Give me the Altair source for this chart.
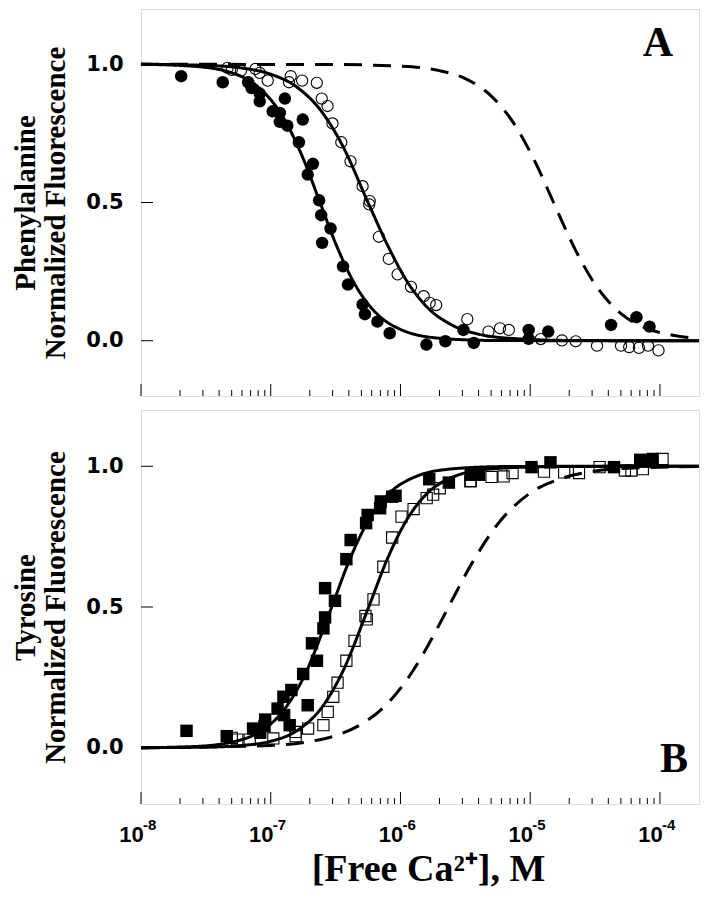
import altair as alt
import pandas as pd

# ---------------- data (log10 of free [Ca2+] in M, normalized fluorescence) ----------------
# Panel A (Phenylalanine)
a_fill_logx = [-7.69, -7.37, -7.174, -7.148, -7.085, -7.085, -6.985, -6.93, -6.93, -6.872,
               -6.891, -6.753, -6.783, -6.675, -6.715, -6.627, -6.611, -6.539, -6.604, -6.443,
               -6.405, -6.292, -6.274, -6.178, -6.083, -5.80, -5.654, -5.515, -5.435, -5.012,
               -5.012, -4.861, -4.377, -4.181, -4.080]
a_fill_y = [0.957, 0.935, 0.935, 0.914, 0.894, 0.866, 0.830, 0.824, 0.792, 0.778,
            0.876, 0.800, 0.718, 0.640, 0.601, 0.508, 0.454, 0.406, 0.354, 0.269,
            0.203, 0.131, 0.096, 0.069, 0.027, -0.014, -0.002, 0.039, -0.008, 0.039,
            0.007, 0.033, 0.057, 0.085, 0.051]

a_open_logx = [-7.333, -7.30, -7.23, -7.118, -7.085, -7.023, -6.846, -6.859, -6.758, -6.645,
               -6.607, -6.562, -6.524, -6.456, -6.385, -6.292, -6.237, -6.241, -6.166, -6.09,
               -6.022, -5.919, -5.821, -5.775, -5.725, -5.485, -5.322, -5.233, -5.165, -4.919,
               -4.755, -4.649, -4.485, -4.30, -4.237, -4.162, -4.092, -4.011]
a_open_y = [0.987, 0.980, 0.977, 0.983, 0.969, 0.941, 0.957, 0.935, 0.941, 0.933,
            0.876, 0.849, 0.786, 0.718, 0.649, 0.559, 0.505, 0.493, 0.376, 0.296,
            0.240, 0.195, 0.161, 0.137, 0.129, 0.078, 0.033, 0.045, 0.039, 0.006,
            0.001, -0.002, -0.018, -0.018, -0.023, -0.026, -0.018, -0.035]

a_fillfit_logx = [-8.0, -7.6, -7.3, -7.1, -6.9, -6.75, -6.62, -6.5, -6.35, -6.2, -6.0, -5.7, -5.3, -4.5, -3.7]
a_fillfit_y = [1.0, 0.993, 0.969, 0.919, 0.805, 0.659, 0.5, 0.352, 0.203, 0.106, 0.041, 0.009, 0.001, 0.0, 0.0]

a_openfit_logx = [-8.0, -7.5, -7.2, -7.0, -6.8, -6.6, -6.45, -6.25, -6.1, -5.95, -5.8, -5.6, -5.4, -5.1, -4.7, -4.0, -3.7]
a_openfit_y = [1.0, 0.996, 0.985, 0.964, 0.918, 0.824, 0.709, 0.5, 0.346, 0.215, 0.124, 0.056, 0.024, 0.007, 0.001, 0.0, 0.0]

a_dash_logx = [-8.0, -6.5, -6.0, -5.7, -5.5, -5.3, -5.1, -4.95, -4.82, -4.65, -4.5, -4.3, -4.1, -3.9, -3.7]
a_dash_y = [1.0, 0.999, 0.993, 0.977, 0.948, 0.885, 0.767, 0.635, 0.5, 0.327, 0.204, 0.098, 0.044, 0.020, 0.008]

# Panel B (Tyrosine)
b_fill_logx = [-7.649, -7.339, -7.136, -7.081, -7.043, -7.048, -6.947, -6.902, -6.841, -6.897,
               -6.854, -6.75, -6.715, -6.682, -6.644, -6.594, -6.581, -6.505, -6.581, -6.417,
               -6.384, -6.265, -6.253, -6.152, -6.157, -6.064, -6.038, -5.778, -5.627, -5.458,
               -5.394, -4.99, -4.844, -4.354, -4.152, -4.056, -4.10]
b_fill_y = [0.060, 0.041, 0.068, 0.053, 0.100, 0.077, 0.139, 0.181, 0.205, 0.116,
            0.080, 0.262, 0.151, 0.371, 0.309, 0.424, 0.463, 0.522, 0.567, 0.670,
            0.738, 0.798, 0.827, 0.875, 0.851, 0.892, 0.895, 0.954, 0.942, 0.970,
            0.970, 0.997, 1.014, 0.997, 1.023, 1.026, 1.020]

b_open_logx = [-7.258, -7.30, -7.162, -6.98, -6.808, -6.808, -6.712, -6.594, -6.561, -6.518,
               -6.485, -6.417, -6.354, -6.26, -6.27, -6.208, -6.132, -6.064, -5.992, -5.899,
               -5.798, -5.748, -5.697, -5.462, -5.458, -5.298, -5.205, -5.136, -4.894, -4.738,
               -4.624, -4.465, -4.27, -4.22, -4.132, -3.98]
b_open_y = [0.029, 0.035, 0.029, 0.033, 0.041, 0.056, 0.068, 0.080, 0.127, 0.181,
            0.231, 0.309, 0.380, 0.456, 0.468, 0.527, 0.643, 0.747, 0.821, 0.848,
            0.887, 0.899, 0.922, 0.946, 0.948, 0.962, 0.964, 0.976, 0.981, 0.978,
            0.976, 0.997, 0.985, 0.985, 0.990, 1.026]

b_fillfit_logx = [-8.0, -7.6, -7.3, -7.1, -6.9, -6.75, -6.53, -6.4, -6.25, -6.1, -5.9, -5.6, -5.2, -4.5, -3.7]
b_fillfit_y = [0.0, 0.004, 0.02, 0.053, 0.133, 0.247, 0.5, 0.659, 0.805, 0.898, 0.96, 0.991, 0.999, 1.0, 1.0]

b_openfit_logx = [-8.0, -7.5, -7.2, -7.0, -6.8, -6.6, -6.45, -6.245, -6.1, -5.95, -5.8, -5.6, -5.3, -4.8, -4.0, -3.7]
b_openfit_y = [0.0, 0.002, 0.009, 0.023, 0.06, 0.147, 0.266, 0.5, 0.672, 0.811, 0.901, 0.961, 0.991, 0.999, 1.0, 1.0]

b_dash_logx = [-8.0, -7.0, -6.7, -6.5, -6.3, -6.1, -5.9, -5.75, -5.63, -5.45, -5.25, -5.0, -4.75, -4.5, -4.2, -3.7]
b_dash_y = [0.0, 0.008, 0.022, 0.043, 0.084, 0.157, 0.276, 0.395, 0.5, 0.655, 0.795, 0.905, 0.958, 0.983, 0.994, 0.999]

# axis labels / ticks
x_major = [1e-8, 1e-7, 1e-6, 1e-5, 1e-4]
x_exponents = ["-8", "-7", "-6", "-5", "-4"]
x_minor = [k * d for d in [1e-8, 1e-7, 1e-6, 1e-5] for k in range(2, 10)]
y_ticks = [0.0, 0.5, 1.0]

X_DOMAIN = [1e-8, 2e-4]
Y_DOMAIN = [-0.2, 1.2]
W = 558
HA = 387
HB = 394


def table(logx, y):
    return pd.DataFrame({"x": [10 ** v for v in logx], "y": y})


xs = alt.Scale(type="log", domain=X_DOMAIN, nice=False)
ys = alt.Scale(domain=Y_DOMAIN, nice=False, zero=False)


def y_axis(title):
    return alt.Axis(values=y_ticks, format=".1f", ticks=False, tickSize=0, domain=False, grid=False,
                    labelFont="DejaVu Sans", labelFontWeight="bold", labelFontSize=21,
                    labelColor="black", labelPadding=18,
                    title=title, titleFont="Liberation Serif", titleFontWeight="bold",
                    titleFontSize=29, titleColor="black", titlePadding=15, titleLineHeight=30)


x_axis_b = alt.Axis(values=x_major, labelExpr="'10'", ticks=False, tickSize=0, domain=False, grid=False,
                    labelFont="Liberation Sans", labelFontWeight="bold", labelFontSize=22,
                    labelColor="black", labelPadding=20, labelOffset=-10, labelFlush=False,
                    labelOverlap=False,
                    title="[Free Ca²⁺], M", titleFont="Liberation Serif", titleFontWeight="bold",
                    titleFontSize=38, titleColor="black", titlePadding=5, titleX=W / 2 + 8)


def panel(h, title, xaxis, fill_df, open_df, fillfit, openfit, dash, shape, letter, letter_y,
          letter_right, with_exponents):
    X = lambda f="x": alt.X(f, type="quantitative", scale=xs, axis=xaxis)
    Y = lambda f="y": alt.Y(f, type="quantitative", scale=ys, axis=y_axis(title))

    layers = []
    for df, dashed in [(fillfit, False), (openfit, False), (dash, True)]:
        m = alt.Chart(df).mark_line(color="black", strokeWidth=3, interpolate="monotone",
                                    strokeDash=[18, 11] if dashed else [1, 0])
        layers.append(m.encode(x=X(), y=Y()))
    layers.append(alt.Chart(open_df).mark_point(shape=shape, filled=False, color="black",
                                                 strokeWidth=1.1, size=125, opacity=1).encode(x=X(), y=Y()))
    layers.append(alt.Chart(fill_df).mark_point(shape=shape, filled=True, color="black",
                                                 size=155, opacity=1).encode(x=X(), y=Y()))
    # inward ticks
    maj = pd.DataFrame({"v": x_major})
    mnr = pd.DataFrame({"v": x_minor})
    yt = pd.DataFrame({"v": y_ticks})
    layers.append(alt.Chart(maj).mark_rule(color="black", strokeWidth=1).encode(
        x=X("v"), y=alt.value(h), y2=alt.value(h - 12)))
    layers.append(alt.Chart(mnr).mark_rule(color="black", strokeWidth=1).encode(
        x=X("v"), y=alt.value(h), y2=alt.value(h - 6)))
    layers.append(alt.Chart(yt).mark_rule(color="black", strokeWidth=1).encode(
        y=Y("v"), x=alt.value(0), x2=alt.value(12)))
    if with_exponents:
        ex = pd.DataFrame({"v": x_major, "t": x_exponents})
        layers.append(alt.Chart(ex).mark_text(align="left", baseline="alphabetic", dx=2,
                                              font="Liberation Sans", fontWeight="bold",
                                              fontSize=15, color="black").encode(
            x=X("v"), y=alt.value(h + 26), text="t:N"))
    lt = pd.DataFrame({"t": [letter]})
    layers.append(alt.Chart(lt).mark_text(align="right", baseline="alphabetic", font="Liberation Serif",
                                          fontWeight="bold", fontSize=42, color="black").encode(
        x=alt.value(W - letter_right), y=alt.value(letter_y), text="t:N"))
    return alt.layer(*layers).properties(width=W, height=h)


pa = panel(HA, ["Phenylalanine", "Normalized Fluorescence"], None,
           table(a_fill_logx, a_fill_y), table(a_open_logx, a_open_y),
           table(a_fillfit_logx, a_fillfit_y), table(a_openfit_logx, a_openfit_y),
           table(a_dash_logx, a_dash_y), "circle", "A", 47, 26, False)
pb = panel(HB, ["Tyrosine", "Normalized Fluorescence"], x_axis_b,
           table(b_fill_logx, b_fill_y), table(b_open_logx, b_open_y),
           table(b_fillfit_logx, b_fillfit_y), table(b_openfit_logx, b_openfit_y),
           table(b_dash_logx, b_dash_y), "square", "B", 362, 11, True)

chart = alt.vconcat(pa, pb, spacing=12).properties(
    padding={"left": 3, "top": 0, "right": 0, "bottom": 0}
).configure_view(stroke="black", strokeWidth=1.4).configure(background="white")

chart.save("out.html", embed_options={"renderer": "svg", "actions": False})
